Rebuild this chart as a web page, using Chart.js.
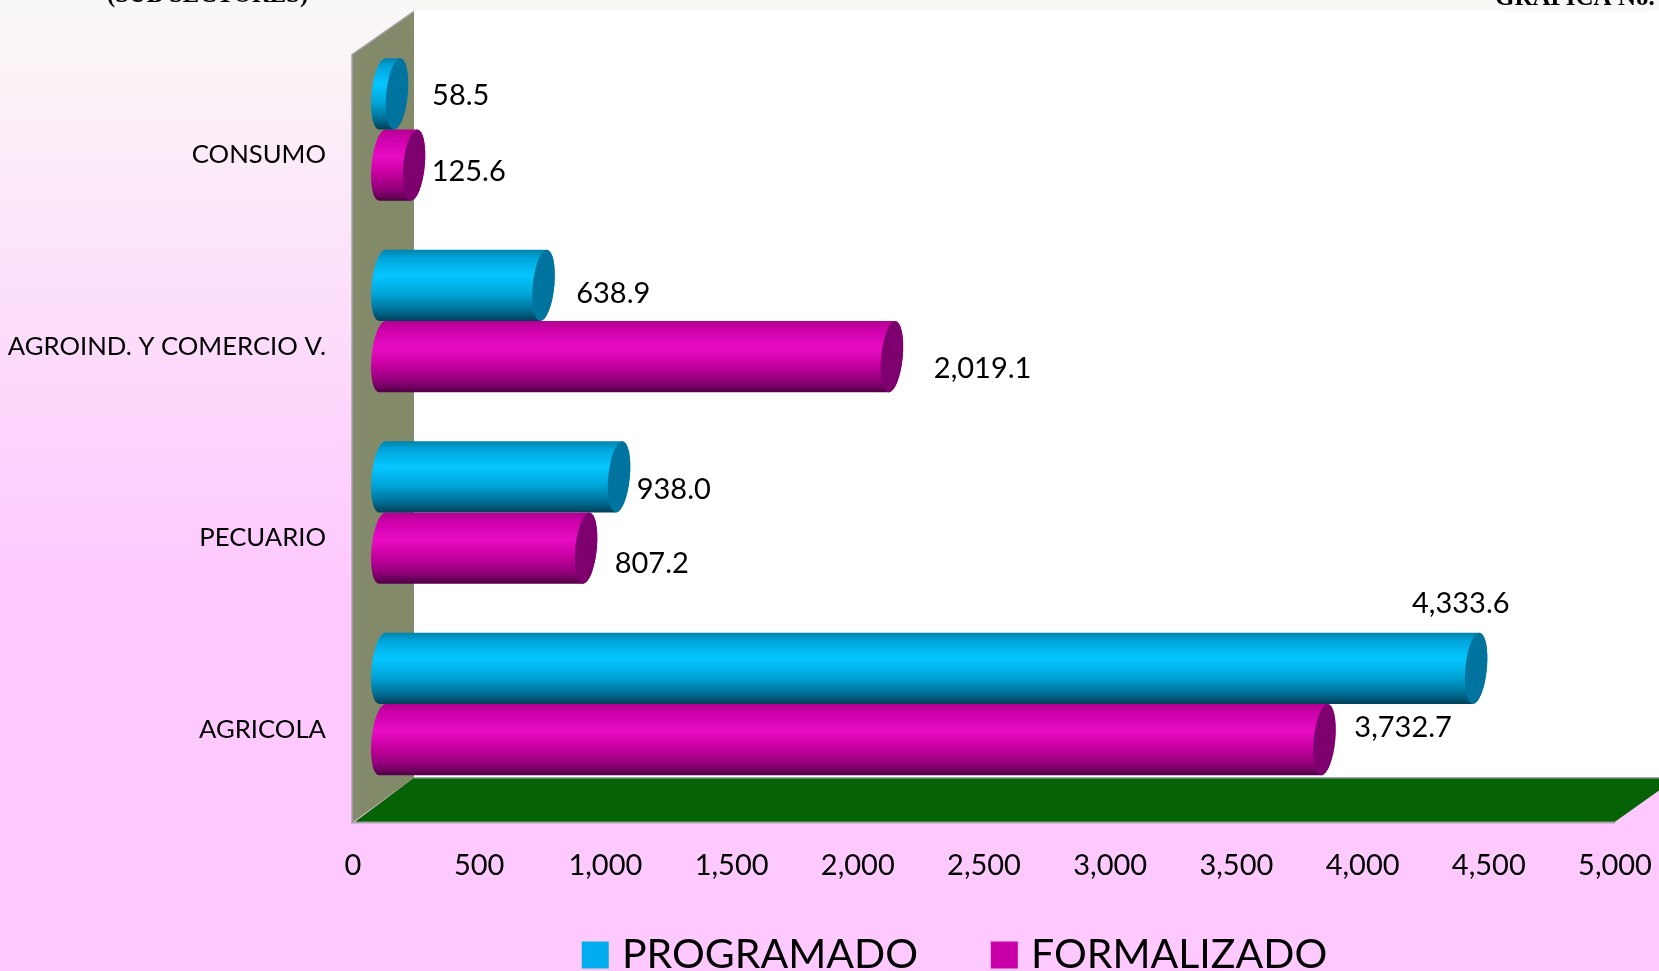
<!DOCTYPE html>
<html>
<head>
<meta charset="utf-8">
<style>html,body{margin:0;padding:0;background:#fec9ff;overflow:hidden}canvas{display:block}</style>
<script src="https://cdn.jsdelivr.net/npm/chart.js@4"></script>
</head>
<body>
<div style="width:1659px;height:971px;position:relative"><canvas id="c" width="1659" height="971"></canvas></div>
<script>
const categories = ["CONSUMO", "AGROIND. Y COMERCIO V.", "PECUARIO", "AGRICOLA"];
const programado = [58.5, 638.9, 938.0, 4333.6];
const formalizado = [125.6, 2019.1, 807.2, 3732.7];
const xTicks = [0, 500, 1000, 1500, 2000, 2500, 3000, 3500, 4000, 4500, 5000];
const seriesNames = ["PROGRAMADO", "FORMALIZADO"];
const labelNudgeProg = [[93, 2], [99, 8], [84, 13], [14, -65]];
const labelNudgeForm = [[84, 6], [120, 12], [95, 15], [108, -12]];

const FONT = 'Lato';
const depth = 29.3;

const looks = {
  "#00aeef": { cap: "#00749f", stops: [[0, "#0083ab"], [.12, "#00a6dc"], [.36, "#05c6ff"], [.62, "#00a5d8"], [.85, "#006f96"], [1, "#003f58"]] },
  "#c800a8": { cap: "#7e006f", stops: [[0, "#b30091"], [.12, "#cc00a8"], [.38, "#e90cc5"], [.62, "#c6009f"], [.85, "#8e0078"], [1, "#4f0045"]] }
};

Chart.BarElement.prototype.draw = function (ctx) {
  const { x, y, base, height } = this;
  const look = looks[this.options.backgroundColor] || looks["#00aeef"];
  const top = y - height / 2, bot = y + height / 2;
  const x0 = base + depth, x1 = x + depth, rx = 10.8, ry = height / 2, k = -0.09;
  ctx.save();
  ctx.transform(1, 0, k, 1, -k * y, 0);
  const g = ctx.createLinearGradient(0, top, 0, bot);
  look.stops.forEach(s => g.addColorStop(s[0], s[1]));
  ctx.beginPath();
  ctx.moveTo(x0, bot);
  ctx.ellipse(x0, y, rx, ry, 0, Math.PI / 2, Math.PI * 1.5);
  ctx.lineTo(x1, top);
  ctx.ellipse(x1, y, rx, ry, 0, -Math.PI / 2, Math.PI / 2);
  ctx.closePath();
  ctx.fillStyle = g;
  ctx.fill();
  ctx.beginPath();
  ctx.ellipse(x1, y, rx, ry, 0, 0, Math.PI * 2);
  ctx.fillStyle = look.cap;
  ctx.fill();
  ctx.restore();
};

function poly(ctx, pts, fill) {
  ctx.beginPath();
  pts.forEach((p, i) => i ? ctx.lineTo(p[0], p[1]) : ctx.moveTo(p[0], p[1]));
  ctx.closePath();
  ctx.fillStyle = fill;
  ctx.fill();
}

const scenery = {
  id: 'scenery',
  beforeLayout(chart) {
    chart.legend.isHorizontal = () => true;
  },
  afterLayout(chart) {
    const l = chart.legend;
    l.left = 589 - 80; l.right = 1659; l.top = 854.5; l.bottom = 971;
  },
  beforeDraw(chart) {
    const { ctx, width, height, scales: { x, y } } = chart;
    const L = x.left, R = x.right, T = y.top, B = y.bottom;
    const bg = ctx.createLinearGradient(0, 0, 0, height);
    bg.addColorStop(0, "#f9f8f6");
    bg.addColorStop(0.03, "#faf6f6");
    bg.addColorStop(0.42, "#fdd6fc");
    bg.addColorStop(0.6, "#fec9ff");
    bg.addColorStop(1, "#fec9ff");
    ctx.save();
    ctx.fillStyle = bg;
    ctx.fillRect(0, 0, width, height);
    ctx.fillStyle = "#f9f8f6";
    ctx.fillRect(400, 0, width - 400, 12);
    const bx = L + 61, bT = T - 22.5, bB = B - 22, fT = T + 21, fB = B + 23;
    ctx.fillStyle = "#ffffff";
    ctx.fillRect(bx, bT, width - bx, bB - bT);
    poly(ctx, [[L - 1, fT], [bx, bT], [bx, bB], [L - 1, fB]], "#838a69");
    poly(ctx, [[L + 2, fB - 1], [bx, bB], [R + 62, bB], [R, fB - 1]], "#056305");
    ctx.strokeStyle = "#a9a5ad"; ctx.lineWidth = 1.5;
    ctx.beginPath();
    ctx.moveTo(bx, bT); ctx.lineTo(L - 1, fT); ctx.lineTo(L - 1, fB); ctx.lineTo(R, fB);
    ctx.moveTo(bx, bB); ctx.lineTo(width, bB);
    ctx.stroke();
    ctx.fillStyle = "#000";
    ctx.font = 'bold 24.6px "Liberation Serif"';
    ctx.textBaseline = 'alphabetic';
    ctx.textAlign = 'left';
    ctx.fillText("(SUB SECTORES)", 107, 2);
    ctx.font = 'bold 25px "Liberation Serif"';
    ctx.fillText("GRAFICA No.", 1495, 5);
    ctx.restore();
  },
  afterDatasetsDraw(chart) {
    const { ctx } = chart;
    ctx.save();
    ctx.fillStyle = "#000";
    ctx.font = '29px ' + FONT;
    ctx.textAlign = 'center';
    ctx.textBaseline = 'middle';
    [labelNudgeProg, labelNudgeForm].forEach((nudges, d) => {
      const meta = chart.getDatasetMeta(d);
      const vals = chart.data.datasets[d].data;
      meta.data.forEach((bar, i) => {
        const t = vals[i].toLocaleString('en-US', { minimumFractionDigits: 1, maximumFractionDigits: 1 });
        ctx.fillText(t, bar.x + nudges[i][0], bar.y + nudges[i][1]);
      });
    });
    ctx.restore();
  }
};

new Chart(document.getElementById('c'), {
  type: 'bar',
  plugins: [scenery],
  data: {
    labels: categories,
    datasets: [
      { label: seriesNames[0], data: programado, backgroundColor: "#00aeef", categoryPercentage: 0.745, barPercentage: 1 },
      { label: seriesNames[1], data: formalizado, backgroundColor: "#c800a8", categoryPercentage: 0.745, barPercentage: 1 }
    ]
  },
  options: {
    indexAxis: 'y',
    responsive: false,
    animation: false,
    layout: { padding: { top: 33.75, right: 44, left: 0, bottom: 0 } },
    scales: {
      x: {
        min: xTicks[0], max: xTicks[xTicks.length - 1],
        grid: { display: false, drawTicks: false }, border: { display: false },
        afterBuildTicks(s) { s.ticks = xTicks.map(v => ({ value: v })); },
        afterFit(s) { s.height = 171.25; s.paddingLeft = 0; s.paddingRight = 0; },
        ticks: {
          autoSkip: false, maxRotation: 0, minRotation: 0, padding: 48.5, color: "#000",
          font: { family: FONT, size: 29 },
          callback: v => Number(v).toLocaleString('en-US')
        }
      },
      y: {
        grid: { display: false, drawTicks: false }, border: { display: false },
        afterFit(s) { s.width = 353; s.paddingTop = 0; s.paddingBottom = 0; },
        ticks: { padding: 27, labelOffset: 25.5, color: "#000", font: { family: FONT, size: 25.7 } }
      }
    },
    plugins: {
      tooltip: { enabled: false },
      legend: {
        position: 'chartArea', align: 'start',
        labels: {
          boxWidth: 12.5, boxHeight: 12.5, padding: 80, color: "#000",
          font: { family: FONT, size: 41 },
          generateLabels: c => c.data.datasets.map((d, i) => ({
            text: d.label, fillStyle: d.backgroundColor, strokeStyle: d.backgroundColor, lineWidth: 14.5, datasetIndex: i
          }))
        }
      }
    }
  }
});
</script>
</body>
</html>
